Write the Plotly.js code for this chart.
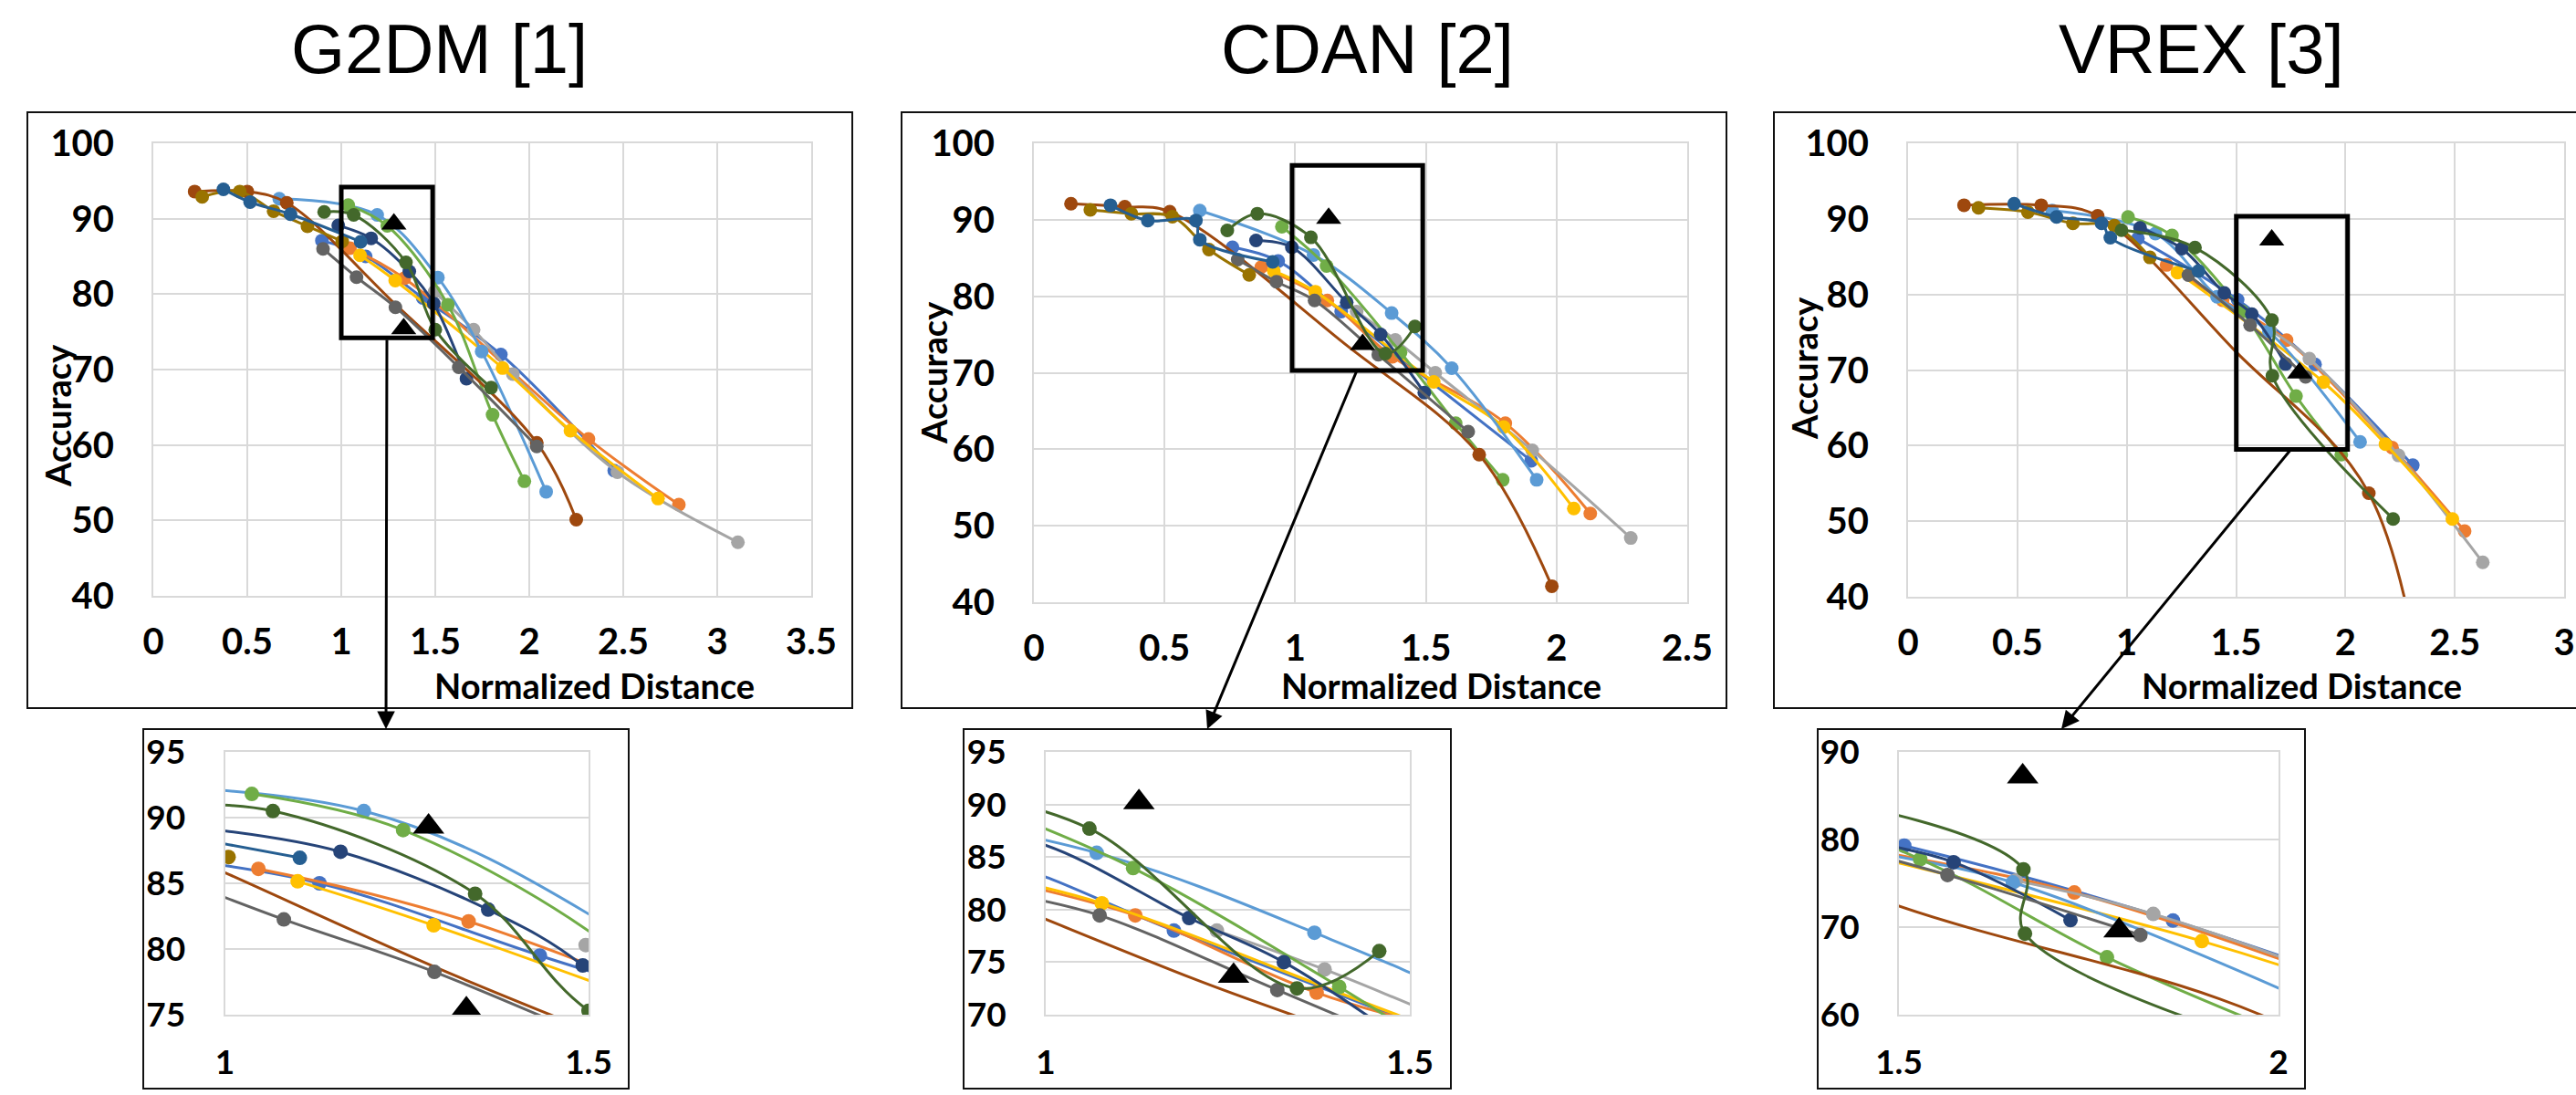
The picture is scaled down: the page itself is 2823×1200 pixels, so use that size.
<!DOCTYPE html>
<html><head><meta charset="utf-8">
<script src="https://cdn.plot.ly/plotly-3.0.1.min.js"></script>
<style>html,body{margin:0;padding:0;background:#fff;overflow:hidden}#chart{width:2823px;height:1200px;}</style>
</head><body><div id="chart"></div>
<script>
const W = 2823, H = 1200;

// Excel default series colours (series 1..12)
const seriesColors = ['#4472C4','#ED7D31','#A5A5A5','#FFC000','#5B9BD5','#70AD47','#264478','#9E480E','#636363','#997300','#255E91','#43682B'];
const chartTitles = ['G2DM [1]', 'CDAN [2]', 'VREX [3]'];
const xAxisTitle = 'Normalized Distance';
const yAxisTitle = 'Accuracy';

// ---------- G2DM ----------
const g2dmX = [
  [0.897, 1.13, 1.433, 1.849, 2.452],
  [1.046, 1.335, 2.315, 2.796],
  [1.496, 1.704, 1.913, 2.469, 3.11],
  [1.1, 1.287, 1.858, 2.219, 2.685],
  [0.67, 1.191, 1.514, 1.747, 2.09],
  [1.037, 1.245, 1.567, 1.805, 1.974],
  [0.984, 1.159, 1.362, 1.492, 1.666],
  [0.22, 0.5, 0.71, 1.29, 2.04, 2.25],
  [0.903, 1.081, 1.288, 1.625, 2.04],
  [0.26, 0.46, 0.64, 0.82, 1.005],
  [0.373, 0.515, 0.73, 1.103],
  [0.909, 1.066, 1.344, 1.5, 1.797]
];
const g2dmY = [
  [87.1, 85.0, 79.5, 72.0, 56.6],
  [86.1, 82.1, 60.8, 52.1],
  [80.3, 75.3, 69.4, 56.4, 47.1],
  [85.15, 81.8, 70.2, 61.9, 52.9],
  [92.65, 90.5, 82.2, 72.4, 53.8],
  [91.8, 89.05, 78.6, 64.0, 55.2],
  [89.1, 87.4, 83.0, 78.75, 68.8],
  [93.6, 93.6, 92.1, 78.6, 60.3, 50.1],
  [86.0, 82.25, 78.26, 70.3, 59.8],
  [92.9, 93.6, 91.0, 89.0, 87.0],
  [93.9, 92.2, 90.6, 86.94],
  [90.9, 90.5, 84.2, 75.3, 67.6]
];
const g2dmTriX = [1.28, 1.332];
const g2dmTriY = [89.3, 75.4];

// ---------- CDAN ----------
const cdanX = [
  [0.76, 0.935, 1.176, 1.903],
  [0.87, 1.123, 1.372, 1.804, 2.129],
  [1.235, 1.383, 1.536, 1.907, 2.284],
  [0.918, 1.077, 1.53, 1.798, 2.066],
  [0.635, 1.07, 1.369, 1.599, 1.924],
  [0.949, 1.12, 1.403, 1.614, 1.794],
  [0.85, 0.987, 1.197, 1.327, 1.494],
  [0.142, 0.348, 0.52, 1.2, 1.704, 1.982],
  [0.78, 0.928, 1.074, 1.318, 1.662],
  [0.216, 0.373, 0.53, 0.67, 0.824],
  [0.293, 0.436, 0.62, 0.635, 0.914],
  [0.74, 0.855, 1.06, 1.345, 1.458]
];
const cdanY = [
  [86.4, 84.6, 78.0, 58.5],
  [83.8, 79.45, 72.1, 63.4, 51.6],
  [78.0, 74.3, 70.0, 59.85, 48.4],
  [83.3, 80.6, 68.8, 62.9, 52.25],
  [91.2, 85.4, 77.8, 70.6, 56.0],
  [89.1, 83.95, 72.65, 63.4, 56.0],
  [87.3, 86.4, 79.2, 75.0, 67.4],
  [92.1, 91.7, 91.05, 73.5, 59.3, 42.1],
  [84.8, 81.9, 79.45, 72.35, 62.3],
  [91.3, 90.8, 90.4, 86.1, 82.8],
  [91.9, 89.9, 89.9, 87.4, 84.5],
  [88.6, 90.8, 87.7, 72.5, 76.05]
];
const cdanTriX = [1.128, 1.258];
const cdanTriY = [90.2, 73.7];

// ---------- VREX ----------
const vrexX = [
  [1.051, 1.507, 1.861, 2.308],
  [1.182, 1.438, 1.731, 2.213, 2.545],
  [1.654, 1.835, 2.243, 2.628],
  [1.232, 1.899, 2.183, 2.489],
  [0.659, 1.131, 1.413, 1.65, 2.067],
  [1.006, 1.207, 1.528, 1.774, 1.981],
  [1.061, 1.252, 1.446, 1.572, 1.726],
  [0.256, 0.609, 0.867, 1.5, 2.107, 2.4],
  [1.282, 1.564, 1.818],
  [0.322, 0.548, 0.754, 0.943, 1.106],
  [0.485, 0.679, 0.885, 0.925, 1.328],
  [0.976, 1.312, 1.664, 1.666, 2.218]
];
const vrexY = [
  [87.4, 79.3, 70.75, 57.4],
  [83.9, 79.25, 73.95, 59.75, 48.7],
  [75.3, 71.5, 58.7, 44.55],
  [82.9, 68.4, 60.2, 50.3],
  [91.1, 88.05, 79.7, 75.1, 60.5],
  [90.25, 87.8, 77.75, 66.55, 58.8],
  [88.8, 86.05, 80.2, 77.4, 70.8],
  [91.8, 91.8, 90.4, 72.4, 53.7, 18],
  [82.55, 75.95, 69.1],
  [91.45, 90.9, 89.4, 89.1, 84.9],
  [92.0, 90.25, 89.4, 87.5, 83.1],
  [88.5, 86.2, 76.6, 69.25, 50.3]
];
const vrexTriX = [1.663, 1.79];
const vrexTriY = [87.2, 69.6];

// points of a series where the curve is read but no marker is shown: [series, pointIndex]
const g2dmNoMarker = [[7, 3]];
const cdanNoMarker = [[7, 3]];
const vrexNoMarker = [[7, 3]];

// axis ranges
const mainXRanges = [[0, 3.5], [0, 2.5], [0, 3]];
const mainYRange = [40, 100];
const insetXRanges = [[1, 1.5], [1, 1.5], [1.5, 2]];
const insetYRanges = [[75, 95], [70, 95], [60, 90]];
const insetYDticks = [5, 5, 10];
// zoom rectangles drawn on the main charts [x0,x1,y0,y1]
const zoomRects = [[1.0, 1.486, 74.2, 94.2], [0.988, 1.488, 70.3, 97.1], [1.501, 2.01, 59.5, 90.35]];

// ---------- layout geometry (pixels) ----------
const px = v => v / W;
const py = v => 1 - v / H;
const mainPlot = [
  {x: [168, 889], y: [157, 653]},
  {x: [1133, 1849], y: [157, 660]},
  {x: [2091, 2810], y: [157, 654]}
];
const insetPlot = [
  {x: [246.5, 645], y: [824, 1112]},
  {x: [1146, 1545], y: [824, 1112]},
  {x: [2081, 2497], y: [824, 1112]}
];
const mainBox = [[30, 934, 123, 776], [988, 1892, 123, 776], [1944, 2890, 123, 776]];
const insetBox = [[157, 689, 799, 1193], [1056, 1590, 799, 1193], [1992, 2526, 799, 1193]];
const titlePos = [[481, 53], [1498, 53], [2412, 53]];
const yTitlePos = [[63, 456], [1023, 408], [1977, 404]];
const xTitlePos = [[651, 751], [1579, 751], [2522, 751]];
// arrows: [tipX, tipY, tailX, tailY]
const arrows = [[423, 799, 424, 371], [1323, 799, 1487, 406], [2259, 799, 2511, 492]];

const datasets = [
  {xs: g2dmX, ys: g2dmY, tx: g2dmTriX, ty: g2dmTriY, hide: g2dmNoMarker},
  {xs: cdanX, ys: cdanY, tx: cdanTriX, ty: cdanTriY, hide: cdanNoMarker},
  {xs: vrexX, ys: vrexY, tx: vrexTriX, ty: vrexTriY, hide: vrexNoMarker}
];

const fam = 'Lato, Carlito, sans-serif';
const tickFontMain = {family: fam, size: 40, color: '#000', weight: 700};
const tickFontInset = {family: fam, size: 37, color: '#000', weight: 700};
const gridC = '#D9D9D9';

const traces = [];
const layout = {
  width: W, height: H,
  margin: {l: 0, r: 0, t: 0, b: 0},
  paper_bgcolor: '#fff', plot_bgcolor: '#fff',
  showlegend: false,
  shapes: [], annotations: []
};

function axisBase(extra) {
  return Object.assign({
    showline: true, mirror: true, linecolor: gridC, linewidth: 2,
    showgrid: true, gridcolor: gridC, gridwidth: 2,
    zeroline: false, ticks: '', fixedrange: true
  }, extra);
}

for (let c = 0; c < 3; c++) {
  const mi = c + 1, ii = c + 4;
  const mx = mi === 1 ? '' : String(mi);
  const ix = String(ii);
  layout['xaxis' + mx] = axisBase({domain: [px(mainPlot[c].x[0]), px(mainPlot[c].x[1])], range: mainXRanges[c], dtick: 0.5, tick0: 0, anchor: 'y' + mx, tickfont: tickFontMain, ticklabelstandoff: 14});
  layout['yaxis' + mx] = axisBase({domain: [py(mainPlot[c].y[1]), py(mainPlot[c].y[0])], range: mainYRange, dtick: 10, anchor: 'x' + mx, tickfont: tickFontMain, ticklabelstandoff: 33});
  layout['xaxis' + ix] = axisBase({domain: [px(insetPlot[c].x[0]), px(insetPlot[c].x[1])], range: insetXRanges[c], tickvals: insetXRanges[c], showgrid: false, anchor: 'y' + ix, tickfont: tickFontInset, ticklabelstandoff: 19});
  layout['yaxis' + ix] = axisBase({domain: [py(insetPlot[c].y[1]), py(insetPlot[c].y[0])], range: insetYRanges[c], dtick: insetYDticks[c], anchor: 'x' + ix, tickfont: tickFontInset, ticklabelstandoff: 34});

  const d = datasets[c];
  [[mx, 15, 3, 24], [ix, 16, 3, 30]].forEach(([ax, ms, lw, ts]) => {
    for (let s = 0; s < 12; s++) {
      const sizes = d.xs[s].map((_, i) => d.hide.some(h => h[0] === s && h[1] === i) ? 0 : ms);
      traces.push({
        type: 'scatter', mode: 'lines+markers',
        x: d.xs[s], y: d.ys[s],
        xaxis: 'x' + ax, yaxis: 'y' + ax,
        line: {color: seriesColors[s], width: lw, shape: 'spline', smoothing: 1},
        marker: {color: seriesColors[s], size: sizes, opacity: 1, line: {width: 0}},
        hoverinfo: 'skip'
      });
    }
    traces.push({
      type: 'scatter', mode: 'markers', x: d.tx, y: d.ty,
      xaxis: 'x' + ax, yaxis: 'y' + ax,
      marker: {symbol: 'triangle-up', color: '#000', size: ts, opacity: 1},
      hoverinfo: 'skip'
    });
  });

  const r = zoomRects[c];
  layout.shapes.push({type: 'rect', xref: 'x' + mx, yref: 'y' + mx, x0: r[0], x1: r[1], y0: r[2], y1: r[3], line: {color: '#000', width: 5}, fillcolor: 'rgba(0,0,0,0)'});
  [mainBox[c], insetBox[c]].forEach(b => {
    layout.shapes.push({type: 'rect', xref: 'paper', yref: 'paper', x0: px(b[0]), x1: px(b[1]), y0: py(b[3]), y1: py(b[2]), line: {color: '#111', width: 2}, fillcolor: 'rgba(0,0,0,0)', layer: 'below'});
  });
  layout.annotations.push({text: chartTitles[c], xref: 'paper', yref: 'paper', x: px(titlePos[c][0]), y: py(titlePos[c][1]), xanchor: 'center', yanchor: 'middle', showarrow: false, font: {family: 'Liberation Sans, Arial, sans-serif', size: 76, color: '#000'}});
  layout.annotations.push({text: yAxisTitle, textangle: -90, xref: 'paper', yref: 'paper', x: px(yTitlePos[c][0]), y: py(yTitlePos[c][1]), xanchor: 'center', yanchor: 'middle', showarrow: false, font: {family: fam, size: 38, color: '#000', weight: 700}});
  layout.annotations.push({text: xAxisTitle, xref: 'paper', yref: 'paper', x: px(xTitlePos[c][0]), y: py(xTitlePos[c][1]), xanchor: 'center', yanchor: 'middle', showarrow: false, font: {family: fam, size: 38, color: '#000', weight: 700}});
  const a = arrows[c];
  layout.annotations.push({text: '', xref: 'paper', yref: 'paper', x: px(a[0]), y: py(a[1]), axref: 'pixel', ayref: 'pixel', ax: a[2] - a[0], ay: a[3] - a[1], showarrow: true, arrowhead: 2, arrowsize: 1.3, arrowwidth: 3, arrowcolor: '#000'});
}

Plotly.newPlot('chart', traces, layout, {staticPlot: true, displayModeBar: false});
</script></body></html>
